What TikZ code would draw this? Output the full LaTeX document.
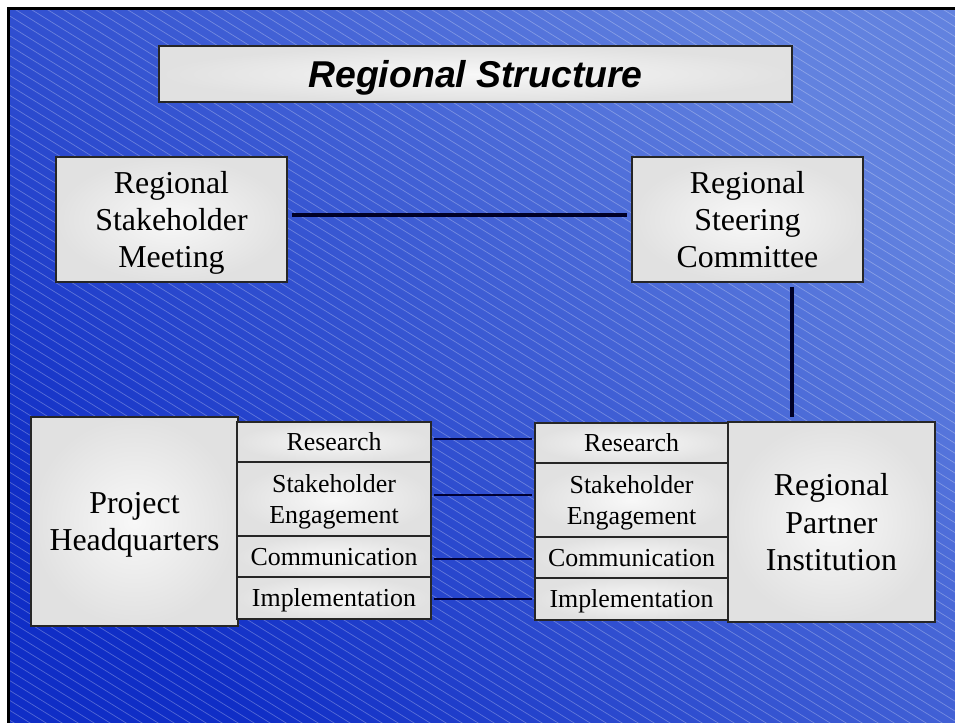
\documentclass[tikz,border=0pt]{standalone}
\usepackage{fontspec}
\setmainfont{Liberation Serif}
\newfontfamily\titlefont{Liberation Sans}
\definecolor{bglight}{HTML}{6282DF}
\definecolor{bgdark}{HTML}{102EC6}
\definecolor{boxouter}{HTML}{E1E1E1}
\definecolor{boxinner}{HTML}{F8F8F8}
\begin{document}
\begin{tikzpicture}[x=1bp,y=-1bp,
  box/.style={draw=black!85, line width=1.4bp, inner color=boxinner, outer color=boxouter,
    inner sep=0pt, align=center, text depth=0pt, font=\fontsize{32}{37.5}\selectfont},
  sub/.style={box, font=\fontsize{26}{32}\selectfont},
  heavy/.style={line width=3.5bp, draw=black!85!blue, shorten <=4bp, shorten >=4bp},
  thin/.style={line width=1.3bp, draw=black!80!blue, shorten <=2bp, shorten >=2bp},
  hatch/.style={white, opacity=0.28, line width=0.7bp}
]
\useasboundingbox (0,0) rectangle (955,723);
\fill[white] (0,0) rectangle (955,723);
\shade[top color=bglight, bottom color=bgdark, shading angle=-45] (8,8) rectangle (955,723);
\begin{scope}
  \clip (8,8) rectangle (955,723);
  \foreach \i in {-1200,-1184,...,960} \draw[hatch] (\i,0) -- ++(1200,744);
\end{scope}
\draw[line width=2.5bp, black] (8.5,723) -- (8.5,8.5) -- (955,8.5);

% title
\node[box, minimum width=633bp, minimum height=56bp,
      font=\titlefont\bfseries\itshape\fontsize{37.5}{40}\selectfont] (title) at (475.5,74) {Regional Structure};

% upper boxes
\node[box, minimum width=231bp, minimum height=125bp] (rsm) at (171.5,219.5) {Regional\\Stakeholder\\Meeting};
\node[box, minimum width=231bp, minimum height=125bp] (rsc) at (747.5,219.5) {Regional\\Steering\\Committee};

% lower left
\node[box, minimum width=207bp, minimum height=209bp, text depth=-6bp] (phq) at (134.5,521.5) {Project\\Headquarters};
\node[sub, minimum width=194bp, minimum height=40bp] (lres) at (334,442) {Research};
\node[sub, minimum width=194bp, minimum height=74bp] (lsta) at (334,499) {Stakeholder\\Engagement};
\node[sub, minimum width=194bp, minimum height=41bp] (lcom) at (334,556.5) {Communication};
\node[sub, minimum width=194bp, minimum height=42bp] (limp) at (334,598) {Implementation};

% lower right
\node[sub, minimum width=193bp, minimum height=40bp] (rres) at (631.5,443) {Research};
\node[sub, minimum width=193bp, minimum height=74bp] (rsta) at (631.5,500) {Stakeholder\\Engagement};
\node[sub, minimum width=193bp, minimum height=41bp] (rcom) at (631.5,557.5) {Communication};
\node[sub, minimum width=193bp, minimum height=42bp] (rimp) at (631.5,599) {Implementation};
\node[box, minimum width=207bp, minimum height=200bp, text depth=-6bp] (rpi) at (831.5,522) {Regional\\Partner\\Institution};

% connectors
\draw[heavy] ([yshift=4.5bp]rsm.east) -- ([yshift=4.5bp]rsc.west);
\draw[heavy] ([xshift=44.5bp]rsc.south) -- ([xshift=44.5bp]rsc.south |- rpi.north);
\draw[thin] ([yshift=3bp]lres.east) -- ([yshift=3bp]lres.east -| rres.west);
\draw[thin] ([yshift=4bp]lsta.east) -- ([yshift=4bp]lsta.east -| rsta.west);
\draw[thin] ([yshift=-2.5bp]lcom.east) -- ([yshift=-2.5bp]lcom.east -| rcom.west);
\draw[thin] ([yshift=-1bp]limp.east) -- ([yshift=-1bp]limp.east -| rimp.west);
\end{tikzpicture}
\end{document}
